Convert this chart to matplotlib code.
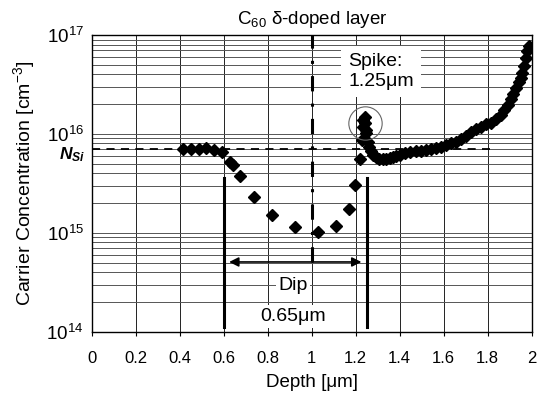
import matplotlib
matplotlib.use('Agg')
import matplotlib.pyplot as plt
from matplotlib.ticker import FixedLocator, NullFormatter

plt.rcParams['font.family'] = ['Liberation Sans', 'DejaVu Sans']
plt.rcParams['mathtext.fontset'] = 'custom'
plt.rcParams['mathtext.rm'] = 'Liberation Sans'
plt.rcParams['mathtext.it'] = 'Liberation Sans:italic'
plt.rcParams['mathtext.bf'] = 'Liberation Sans:bold'

# ---- data ----
depth = [0.412, 0.450, 0.488, 0.521, 0.555, 0.590, 0.627, 0.640, 0.673, 0.738,
         0.820, 0.923, 1.029, 1.109, 1.168, 1.199, 1.218,
         1.230, 1.233, 1.233, 1.241, 1.241, 1.245, 1.249, 1.256, 1.260, 1.271,
         1.279, 1.291, 1.306, 1.324, 1.340, 1.355, 1.370, 1.385, 1.400, 1.423,
         1.445, 1.476, 1.499, 1.521, 1.544, 1.567, 1.590, 1.612, 1.635, 1.658,
         1.680, 1.703, 1.726, 1.749, 1.771, 1.794, 1.817, 1.840, 1.862, 1.877,
         1.892, 1.905, 1.916, 1.930, 1.941, 1.950, 1.959, 1.966, 1.973, 1.980,
         1.989]
conc = [7.04e15, 7.0e15, 7.0e15, 7.15e15, 6.88e15, 6.51e15, 5.24e15, 4.85e15, 3.75e15, 2.32e15,
        1.51e15, 1.14e15, 1.03e15, 1.18e15, 1.73e15, 3.04e15, 5.53e15,
        8.68e15, 1.38e16, 1.18e16, 1.49e16, 1.28e16, 1.09e16, 1.01e16, 8.34e15, 7.42e15, 6.76e15,
        6.12e15, 5.80e15, 5.53e15, 5.53e15, 5.61e15, 5.74e15, 5.88e15, 5.98e15, 6.12e15, 6.37e15,
        6.61e15, 6.76e15, 6.79e15, 6.88e15, 7.04e15, 7.25e15, 7.42e15, 7.73e15, 8.03e15, 8.34e15,
        8.82e15, 9.52e15, 1.045e16, 1.134e16, 1.188e16, 1.245e16, 1.304e16, 1.40e16, 1.55e16, 1.745e16,
        1.98e16, 2.25e16, 2.53e16, 2.88e16, 3.35e16, 3.67e16, 4.13e16, 4.86e16, 5.85e16, 6.89e16,
        7.83e16]

n_si = 7.0e15
n_si_label_y = 5.6e15
n_si_end = 1.81
dip_left = 0.6
dip_right = 1.25
dip_center = 1.0
spike_depth = 1.243
spike_conc = 1.28e16
line_bottom = 1.12e14
line_top = 3.58e15
center_line_bottom = 5.07e14
arrow_y = 5.07e14
arrow_x0 = 0.624
arrow_x1 = 1.226

x_ticks = [0, 0.2, 0.4, 0.6, 0.8, 1.0, 1.2, 1.4, 1.6, 1.8, 2.0]
x_tick_labels = ['0', '0.2', '0.4', '0.6', '0.8', '1', '1.2', '1.4', '1.6', '1.8', '2']
y_ticks = [1e14, 1e15, 1e16, 1e17]
y_tick_labels = [r'$10^{14}$', r'$10^{15}$', r'$10^{16}$', r'$10^{17}$']

title = r'C$_{60}$ δ-doped layer'
xlabel = 'Depth [μm]'
ylabel = r'Carrier Concentration [cm$^{-3}$]'

# ---- figure ----
fig = plt.figure(figsize=(5.39, 3.97), dpi=100)
ax = fig.add_axes([0.1707, 0.1645, 0.8154, 0.7473])
ax.set_yscale('log')
ax.set_xlim(0, 2)
ax.set_ylim(1e14, 1e17)

ax.xaxis.set_major_locator(FixedLocator(x_ticks))
ax.set_xticklabels(x_tick_labels)
ax.yaxis.set_major_locator(FixedLocator(y_ticks))
ax.set_yticklabels(y_tick_labels)
minor = [m * 10.0**e for e in (14, 15, 16) for m in range(2, 10)]
ax.yaxis.set_minor_locator(FixedLocator(minor))
ax.yaxis.set_minor_formatter(NullFormatter())

ax.grid(True, which='major', axis='x', color='#222222', lw=0.7, zorder=0)
ax.grid(True, which='both', axis='y', color='#555555', lw=0.7, zorder=0)
ax.set_axisbelow(True)
ax.tick_params(axis='x', length=3, width=0.8, labelsize=12, pad=11)
ax.tick_params(axis='y', which='major', length=0, labelsize=13.5, pad=6)
ax.tick_params(axis='y', which='minor', length=0)
for s in ax.spines.values():
    s.set_linewidth(1.0)
    s.set_color('black')

# N_Si dashed line
ax.plot([0, n_si_end], [n_si, n_si], color='black', lw=1.3, ls=(0, (4.5, 3.5)), zorder=2)

# vertical lines
ax.plot([dip_left, dip_left], [line_bottom, line_top], color='black', lw=2.2, zorder=3)
ax.plot([dip_right, dip_right], [line_bottom, line_top], color='black', lw=2.2, zorder=3)
ax.plot([dip_center, dip_center], [center_line_bottom, 1e17], color='black', lw=2.2,
        ls=(0, (5, 4, 1, 4)), zorder=3)

# data
ax.plot(depth, conc, ls='none', marker='D', ms=5.7, color='black', zorder=4)

# spike circle
ax.plot([spike_depth], [spike_conc], ls='none', marker='o', ms=24, mfc='none',
        mec='#666666', mew=0.8, zorder=4)

# double arrow
ax.annotate('', xy=(arrow_x1, arrow_y), xytext=(arrow_x0, arrow_y),
            arrowprops=dict(arrowstyle='<|-|>', color='black', lw=1.2,
                            mutation_scale=14, shrinkA=0, shrinkB=0), zorder=5)

# texts
box = dict(facecolor='white', edgecolor='none', pad=2)
ax.text(0.915, 2.95e14, 'Dip', ha='center', va='center', fontsize=14, bbox=box, zorder=3)
ax.text(0.915, 1.42e14, '0.65μm', ha='center', va='center', fontsize=14, bbox=box, zorder=3)
ax.text(1.165, 4.3e16, 'Spike:\n1.25μm', ha='left', va='center', fontsize=14,
        linespacing=1.25, bbox=dict(facecolor='white', edgecolor='none', pad=5), zorder=3)

ax.text(-0.015, n_si_label_y, r'$\mathdefault{N_{Si}}$', transform=ax.get_yaxis_transform(),
        ha='right', va='baseline', fontsize=12.5, fontweight='bold', style='italic')

ax.set_title(title, fontsize=13.5, pad=8)
ax.set_xlabel(xlabel, fontsize=13.5, labelpad=6)
ax.set_ylabel(ylabel, fontsize=14, labelpad=7)

fig.savefig('out.png', dpi=100)
